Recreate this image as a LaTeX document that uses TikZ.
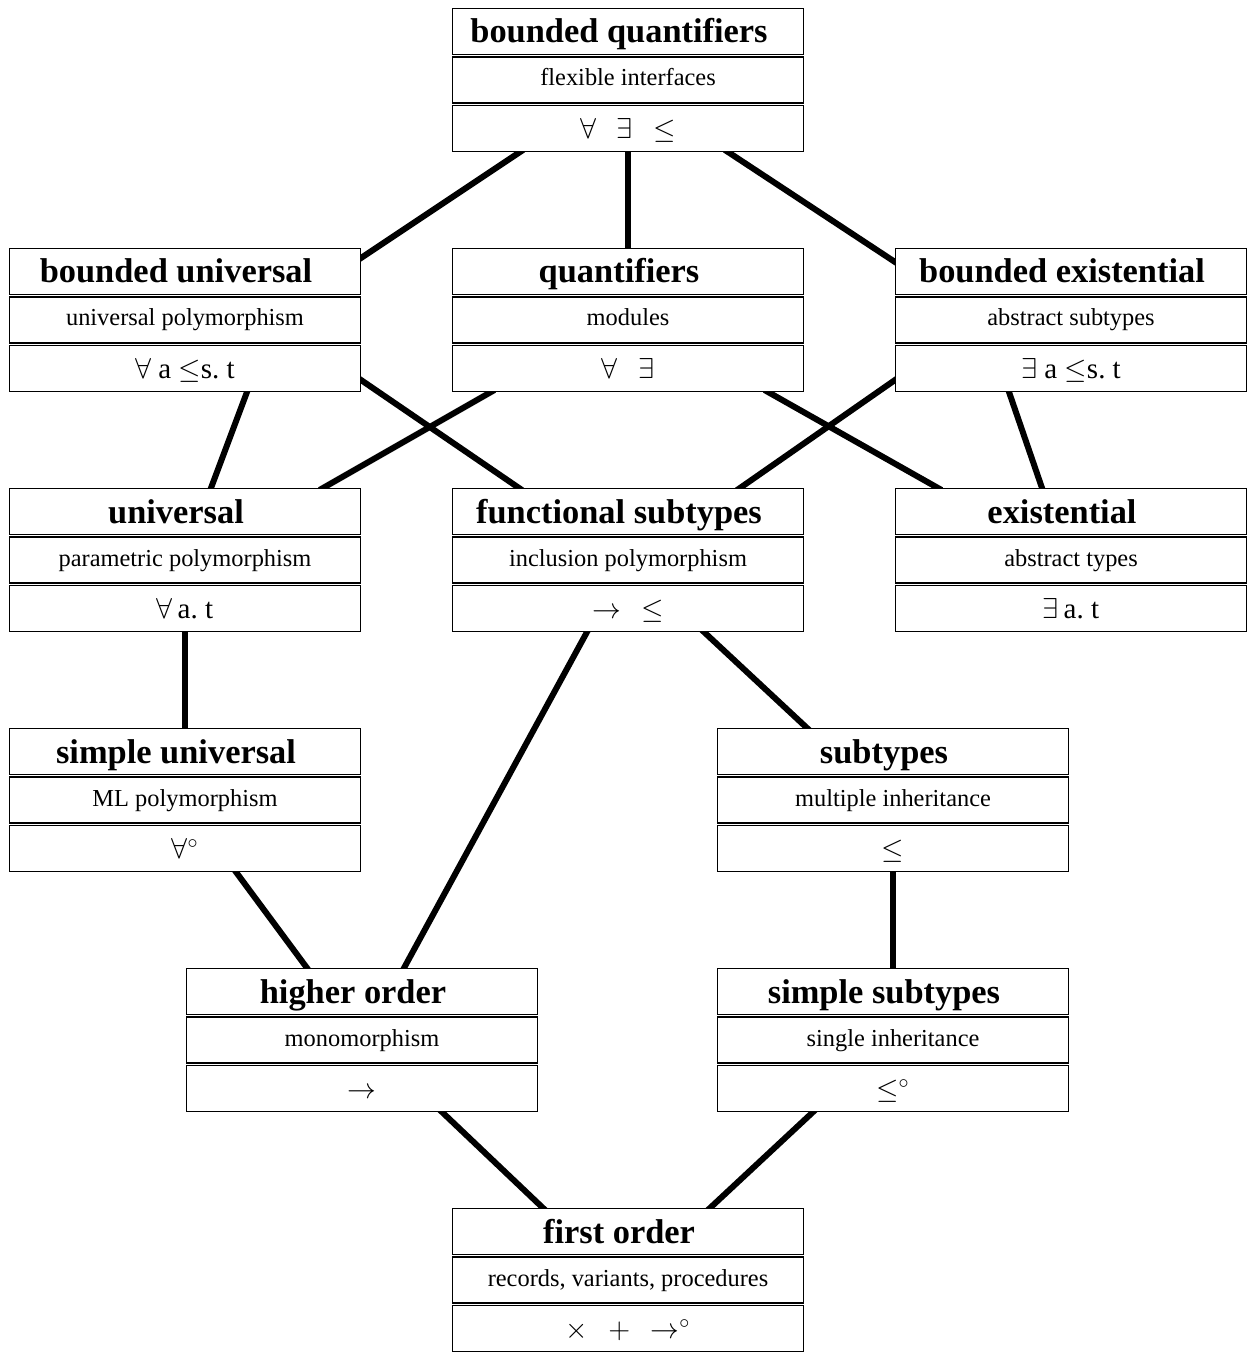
\documentclass[tikz,border=0pt]{standalone}
\usepackage{fontspec}
\setmainfont{Liberation Serif}
\usetikzlibrary{positioning,calc,backgrounds}
\begin{document}
\begin{tikzpicture}[x=.5pt,y=-.5pt,
    row/.style={draw,fill=white,line width=.7pt,minimum width=175.3pt,minimum height=22.9pt,inner sep=0pt},
    head/.style={row,font=\fontsize{17.2}{20}\selectfont\bfseries,text height=13.7pt,text depth=2.3pt},
    desc/.style={row,font=\fontsize{12.2}{14}\selectfont,text height=9pt,text depth=3pt},
    syms/.style={row,font=\fontsize{14.5}{17}\selectfont,text height=12.6pt,text depth=2.4pt},
    link/.style={line width=3pt,shorten <=-2pt,shorten >=-2pt}]
\useasboundingbox (0,0) rectangle (1252,1352);
\foreach \bx/\xx/\yy/\ttl/\dsc/\sy in {
    bq/628/8/{bounded quantifiers}/{flexible interfaces}/{$\forall$\hspace{.7em}$\exists$\hspace{.7em}$\leq$},
    bu/185/248/{bounded universal}/{universal polymorphism}/{$\forall$ a $\leq$s.\ t},
    qu/628/248/{quantifiers}/{modules}/{$\forall$\hspace{.7em}$\exists$},
    be/1071/248/{bounded existential}/{abstract subtypes}/{$\exists$ a $\leq$s.\ t},
    un/185/488/{universal}/{parametric polymorphism}/{$\forall$\,a.\ t},
    fs/628/488/{functional subtypes}/{inclusion polymorphism}/{$\to$\hspace{.7em}$\leq$},
    ex/1071/488/{existential}/{abstract types}/{$\exists$\,a.\ t},
    su/185/728/{simple universal}/{ML polymorphism}/{$\forall^{\circ}$},
    st/893/728/{subtypes}/{multiple inheritance}/{$\leq$},
    ho/362/968/{higher order}/{monomorphism}/{$\to$},
    ss/893/968/{simple subtypes}/{single inheritance}/{$\leq^{\circ}$},
    fo/628/1208/{first order}/{records, variants, procedures}/{$\times$\hspace{.7em}$+$\hspace{.7em}$\to^{\circ}$}}
{
    \node[head,anchor=north] (\bx) at (\xx,\yy) {\ttl\kern9pt};
    \node[desc,below=.6pt of \bx] (\bx-d) {\dsc};
    \node[syms,below=.6pt of \bx-d] (\bx-s) {\sy};
}
% connectors behind the boxes
\begin{scope}[on background layer]
    \draw[link] ($(bq-s.south)+(-108,0)$)--($(bu.north east)+(0,10)$);
    \draw[link] (bq-s.south)--(qu.north);
    \draw[link] ($(bq-s.south)+(100,0)$)--($(be.north west)+(0,14)$);
    \draw[link] ($(bu-s.south)+(62,0)$)--($(un.north)+(26,0)$);
    \draw[link] ($(bu-s.south east)+(0,-12)$)--($(fs.north)+(-109,0)$);
    \draw[link] ($(qu-s.south)+(-137,0)$)--($(un.north)+(138,0)$);
    \draw[link] ($(qu-s.south)+(140,0)$)--($(ex.north)+(-133,0)$);
    \draw[link] ($(be-s.south west)+(0,-12)$)--($(fs.north)+(112,0)$);
    \draw[link] ($(be-s.south)+(-62,0)$)--($(ex.north)+(-29,0)$);
    \draw[link] (un-s.south)--(su.north);
    \draw[link] ($(fs-s.south)+(-41,0)$)--($(ho.north)+(42,0)$);
    \draw[link] ($(fs-s.south)+(76,0)$)--($(st.north)+(-86,0)$);
    \draw[link] ($(su-s.south)+(51,0)$)--($(ho.north)+(-55,0)$);
    \draw[link] (st-s.south)--(ss.north);
    \draw[link] ($(ho-s.south)+(80,0)$)--($(fo.north)+(-85,0)$);
    \draw[link] ($(ss-s.south)+(-80,0)$)--($(fo.north)+(82,0)$);
\end{scope}
\end{tikzpicture}
\end{document}
